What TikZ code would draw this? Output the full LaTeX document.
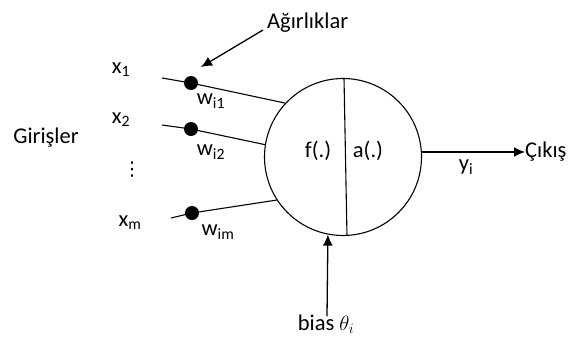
\documentclass[tikz,border=0pt]{standalone}
\usepackage{fontspec}
\setmainfont{Carlito}
\newfontfamily\dvsfont{DejaVu Sans}
\usetikzlibrary{arrows.meta}
\begin{document}
\begin{tikzpicture}[x=1pt,y=-1pt,
  lbl/.style={inner sep=0pt, font=\fontsize{22.5}{26}\selectfont},
  wdot/.style={circle, fill=black, minimum size=14pt, inner sep=0pt},
  wire/.style={line width=1.1pt},
  arr/.style={line width=1.3pt, -{Latex[length=11pt,width=10pt]}}]
\useasboundingbox (0,0) rectangle (571,338);
% neuron
\node[circle, draw, line width=1.1pt, minimum size=157pt, inner sep=0pt] (n) at (343,157) {};
\draw[wire] ([xshift=1pt]n.north) -- ([xshift=4pt]n.south);
\node[lbl] (f) at (318,151) {f(.)};
\node[lbl] (a) at (368,151) {a(.)};
% inputs
\node[lbl] (x1) at (121,70) {x\textsubscript{1}};
\node[lbl] (x2) at (121,120) {x\textsubscript{2}};
\node[inner sep=0pt, font=\dvsfont\fontsize{19}{22}\selectfont] (vd) at (132,170) {⋮};
\node[lbl] (xm) at (130,223) {x\textsubscript{m}};
\node[lbl] (gir) at (46,138) {Girişler};
\coordinate (s1) at (162,78);
\coordinate (s2) at (162,125);
\coordinate (sm) at (171,218);
\node[wdot] (d1) at (191,83) {};
\node[wdot] (d2) at (191,129) {};
\node[wdot] (dm) at (192,213) {};
\draw[wire] (s1) -- (d1.center) -- (n.137);
\draw[wire] (s2) -- (d2.center) -- (n.171);
\draw[wire] (sm) -- (dm.center) -- (n.213);
\node[lbl] (w1) at (211,101) {w\textsubscript{i1}};
\node[lbl] (w2) at (211,152) {w\textsubscript{i2}};
\node[lbl] (wm) at (218,232) {w\textsubscript{im}};
% weights label
\node[lbl, anchor=base west] (ag) at (267,28) {Ağırlıklar};
\coordinate (agt) at (263,30);
\draw[arr] (agt) -- (201,67);
% output
\node[lbl, anchor=west] (out) at (525,152) {Çıkış};
\draw[arr] (out.west -| n.east) -- (out.west);
\node[lbl] (y) at (466,167) {y\textsubscript{i}};
% bias
\node[lbl] (bias) at (326,324) {bias $\theta_i$};
\draw[arr] ([yshift=-2pt]bias.north -| 327,0) -- (n.259);
\end{tikzpicture}
\end{document}
